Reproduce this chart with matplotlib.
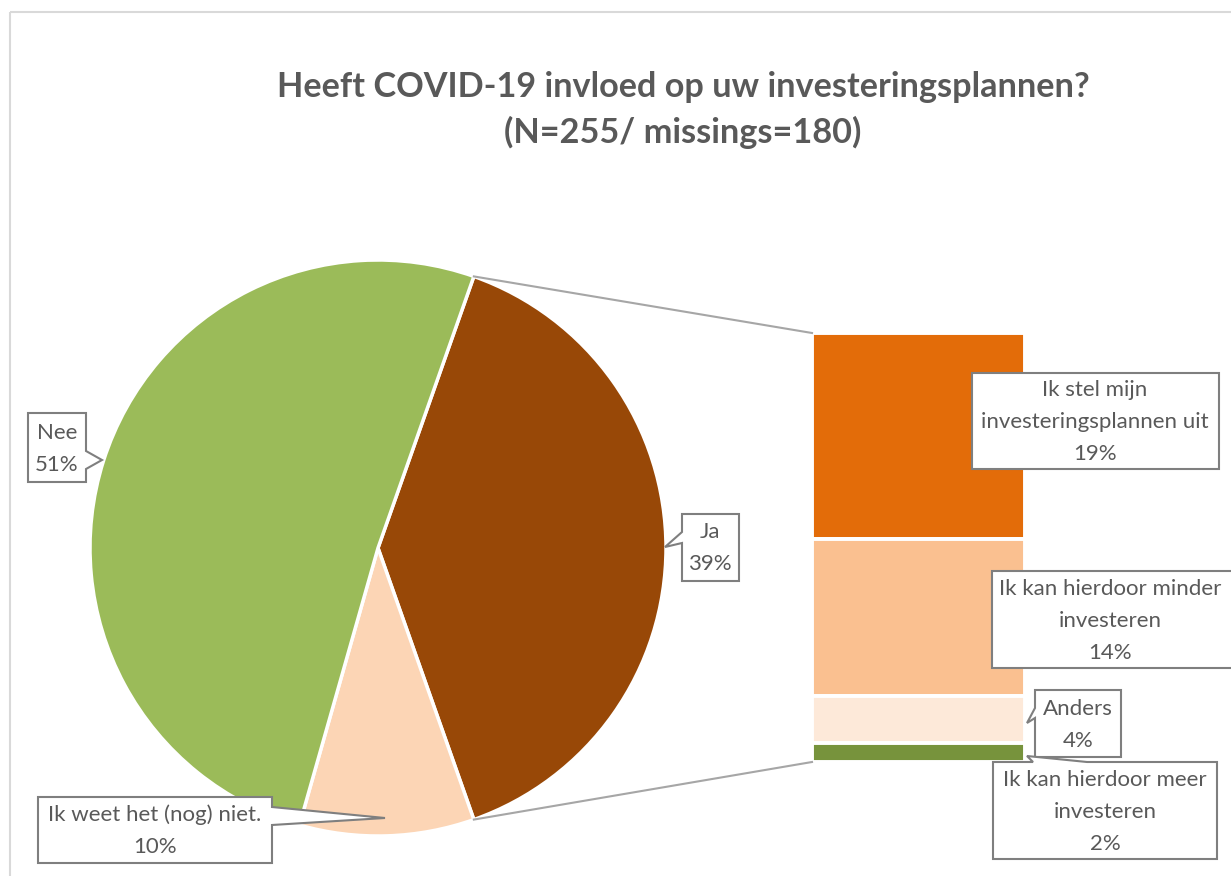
import numpy as np
import matplotlib
matplotlib.use("Agg")
import matplotlib.pyplot as plt
from matplotlib.patches import Polygon, Rectangle

plt.rcParams["font.family"] = ["Lato", "DejaVu Sans"]

# data (shares in %; labels show them rounded)
TITLE = "Heeft COVID-19 invloed op uw investeringsplannen?\n(N=255/ missings=180)"
pie_labels = ["Ja", "Ik weet het (nog) niet.", "Nee"]
pie_values = [39.2, 9.8, 51.0]
pie_colors = ["#984807", "#FCD5B5", "#9BBB59"]

bar_labels = ["Ik stel mijn\ninvesteringsplannen uit", "Ik kan hierdoor minder\ninvesteren",
              "Anders", "Ik kan hierdoor meer\ninvesteren"]
bar_values = [18.8, 14.4, 4.3, 1.7]
bar_colors = ["#E36C09", "#FAC090", "#FDE9D9", "#77933C"]

TXT = "#595959"
EDGE = "#7F7F7F"

fig = plt.figure(figsize=(12.31, 8.76), dpi=100)
ax = fig.add_axes([0, 0, 1, 1])

# pie (y axis inverted below, so angles run clockwise on screen)
cx, cy, r = 378, 548, 288
start = -pie_values[0] / 100 * 360 / 2
ax.pie(pie_values, colors=pie_colors, startangle=start, counterclock=True,
       center=(cx, cy), radius=r, wedgeprops=dict(edgecolor="white", linewidth=2.5))

# bar of pie
bx, bw, btop, bbot = 812, 213, 333, 762
scale = (bbot - btop) / sum(bar_values)
bottoms = btop + np.concatenate([[0], np.cumsum(bar_values)[:-1]]) * scale
ax.bar(bx + bw / 2, np.array(bar_values) * scale, width=bw, bottom=bottoms,
       color=bar_colors, edgecolor="white", linewidth=2.8)

# connector lines
a = np.deg2rad(start)
ax.plot([cx + r * np.cos(a), bx], [cy + r * np.sin(a), btop], color="#A6A6A6", lw=1.5)
ax.plot([cx + r * np.cos(a), bx], [cy - r * np.sin(a), bbot], color="#A6A6A6", lw=1.5)


def callout(x0, y0, x1, y1, notch=None):
    # notch = (side, p1, p2, tip)
    pts = [(x0, y0)]
    if notch and notch[0] == "top":
        pts += [(notch[1], y0), notch[3], (notch[2], y0)]
    pts.append((x1, y0))
    if notch and notch[0] == "right":
        pts += [(x1, notch[1]), notch[3], (x1, notch[2])]
    pts.append((x1, y1))
    pts.append((x0, y1))
    if notch and notch[0] == "left":
        pts += [(x0, notch[2]), notch[3], (x0, notch[1])]
    ax.add_patch(Polygon(pts, closed=True, facecolor="white", edgecolor=EDGE, lw=1.5, zorder=5))


def label(x, y, name, v):
    ax.text(x, y, f"{name}\n{v:.0f}%", ha="center", va="center", fontsize=16, color=TXT,
            linespacing=1.75, zorder=6)


# pie labels
callout(28, 413, 86, 482, ("right", 451, 469, (102, 460)))
label(57, 449, pie_labels[2], pie_values[2])
callout(682, 514, 739, 581, ("left", 532, 543, (665, 547)))
label(710, 548, pie_labels[0], pie_values[0])
callout(38, 797, 272, 863, ("right", 807, 825, (385, 818)))
label(155, 831, pie_labels[1], pie_values[1])

# bar labels
callout(972, 373, 1219, 469)
label(1095, 422, bar_labels[0], bar_values[0])
callout(992, 571, 1245, 668)
label(1110, 621, bar_labels[1], bar_values[1])
callout(1035, 690, 1121, 757, ("left", 708, 718, (1027, 723)))
label(1078, 725, bar_labels[2], bar_values[2])
callout(993, 762, 1217, 859, ("top", 1033, 1087, (1027, 756)))
label(1105, 812, bar_labels[3], bar_values[3])

# title
ax.text(683, 110, TITLE, ha="center", va="center", fontsize=24.7, fontweight="bold",
        color=TXT, linespacing=1.5)

# chart frame
ax.add_patch(Rectangle((9.5, 11.5), 1300, 1000, fill=False, edgecolor="#D9D9D9", lw=1.5))

ax.set_xlim(0, 1231)
ax.set_ylim(876, 0)
ax.set_aspect("auto")
ax.axis("off")

fig.savefig("out.png", dpi=100)
